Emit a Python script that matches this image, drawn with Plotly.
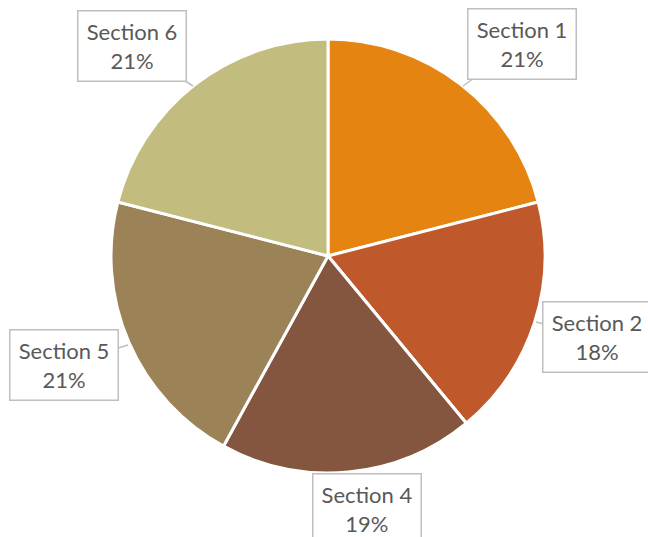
import plotly.graph_objects as go

labels = ["Section 1", "Section 2", "Section 3", "Section 4", "Section 5", "Section 6"]
values = [21, 18, 0, 19, 21, 21]
colors = ["#E68412", "#BF592C", "#A0522D", "#84553F", "#9C8257", "#C2BC7E"]

W, H = 648, 537

fig = go.Figure(go.Pie(
    labels=labels, values=values, sort=False, direction="clockwise", rotation=0,
    marker=dict(colors=colors, line=dict(color="white", width=3)),
    textinfo="none", hoverinfo="label+percent",
    domain=dict(x=[(328 - 217) / W, (328 + 217) / W], y=[1 - 473 / H, 1 - 39 / H]),
))

total = sum(values)
BW, BH = 105, 67
# callout boxes: (label index, box center px, pointer tip px or None)
callouts = [
    (0, (522, 44), (463, 86)),
    (1, (597, 337), (536, 322)),
    (3, (367, 506), None),
    (4, (64, 365), (128, 345)),
    (5, (132, 46), (193, 86)),
]
for i, (bx, by), tip in callouts:
    pct = round(values[i] / total * 100)
    text = f"{labels[i]}<br>{pct}%"
    common = dict(
        text=text, xref="paper", yref="paper",
        font=dict(family="Lato, Open Sans, sans-serif", size=22, color="#595959"),
        bgcolor="white", bordercolor="#BFBFBF", borderwidth=1.5,
        width=BW, height=BH, align="center", valign="middle",
    )
    if tip is None:
        fig.add_annotation(x=bx / W, y=1 - (by - BH / 2) / H, yanchor="top",
                           showarrow=False, **common)
    else:
        fig.add_annotation(x=tip[0] / W, y=1 - tip[1] / H, ax=bx - tip[0], ay=by - tip[1],
                           showarrow=True, arrowhead=0, arrowwidth=1.5, arrowcolor="#BFBFBF",
                           **common)

fig.update_layout(
    width=W, height=H, margin=dict(l=0, r=0, t=0, b=0),
    paper_bgcolor="white", plot_bgcolor="white", showlegend=False,
)
fig.write_html("out.html", config={"displayModeBar": False},
               post_script="document.body.style.margin='0';")
